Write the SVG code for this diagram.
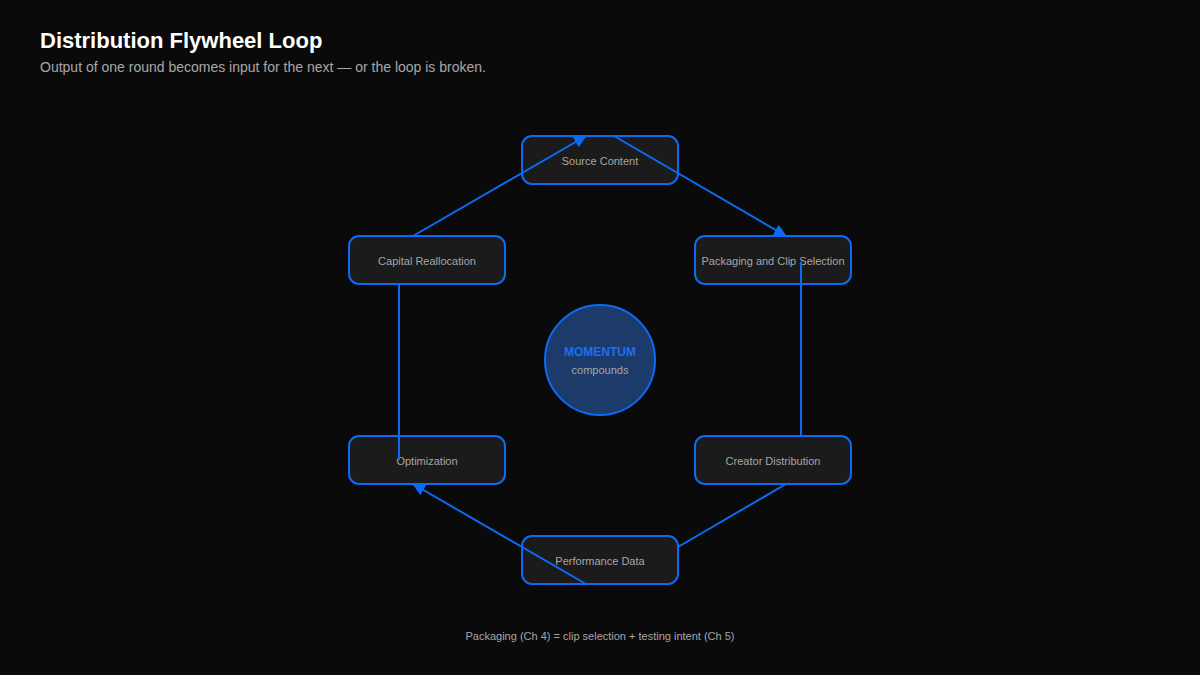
<svg xmlns="http://www.w3.org/2000/svg" width="1200" height="675" viewBox="0 0 1200 675">
<defs>
<style>
.box{fill:#1b1b1b;stroke:#0b6bf5;stroke-width:2}
.lbl{font-family:"Liberation Sans",Arial,sans-serif;font-size:11px;fill:#a6a6a6;text-anchor:middle}
.edge{stroke:#0b6bf5;stroke-width:2;fill:none}
</style>
<marker id="arr" markerUnits="userSpaceOnUse" markerWidth="13" markerHeight="12" refX="12" refY="6" orient="auto" viewBox="0 0 13 12">
<path d="M0,0 L13,6 L0,12 z" fill="#0b6bf5"/>
</marker>
</defs>
<rect width="1200" height="675" fill="#0a0a0a"/>
<text x="40" y="48" font-family="Liberation Sans,Arial,sans-serif" font-size="22" font-weight="bold" fill="#ffffff">Distribution Flywheel Loop</text>
<text x="40" y="72" font-family="Liberation Sans,Arial,sans-serif" font-size="14" fill="#a8a8a8">Output of one round becomes input for the next — or the loop is broken.</text>
<g id="node-source"><rect class="box" x="522" y="136" width="156" height="48" rx="10"/><text class="lbl" x="600" y="165">Source Content</text></g>
<g id="node-packaging"><rect class="box" x="695" y="236" width="156" height="48" rx="10"/><text class="lbl" x="773" y="265">Packaging and Clip Selection</text></g>
<g id="node-creator"><rect class="box" x="695" y="436" width="156" height="48" rx="10"/><text class="lbl" x="773" y="465">Creator Distribution</text></g>
<g id="node-performance"><rect class="box" x="522" y="536" width="156" height="48" rx="10"/><text class="lbl" x="600" y="565">Performance Data</text></g>
<g id="node-optimization"><rect class="box" x="349" y="436" width="156" height="48" rx="10"/><text class="lbl" x="427" y="465">Optimization</text></g>
<g id="node-capital"><rect class="box" x="349" y="236" width="156" height="48" rx="10"/><text class="lbl" x="427" y="265">Capital Reallocation</text></g>
<g id="node-momentum"><circle cx="600" cy="360" r="55" fill="#1c3a6a" stroke="#0b6bf5" stroke-width="2"/><text x="600" y="356" font-family="Liberation Sans,Arial,sans-serif" font-size="12" font-weight="bold" fill="#1a6ff5" text-anchor="middle">MOMENTUM</text><text class="lbl" x="600" y="374">compounds</text></g>
<g id="connectors">
<line class="edge" x1="413" y1="236" x2="586" y2="136" marker-end="url(#arr)"/>
<line class="edge" x1="614" y1="136" x2="786" y2="236" marker-end="url(#arr)"/>
<line class="edge" x1="801" y1="262" x2="801" y2="436"/>
<line class="edge" x1="786" y1="484" x2="678" y2="547"/>
<line class="edge" x1="586" y1="584" x2="413" y2="484" marker-end="url(#arr)"/>
<line class="edge" x1="399" y1="460" x2="399" y2="284"/>
</g>
<text class="lbl" x="600" y="640">Packaging (Ch 4) = clip selection + testing intent (Ch 5)</text>
</svg>
